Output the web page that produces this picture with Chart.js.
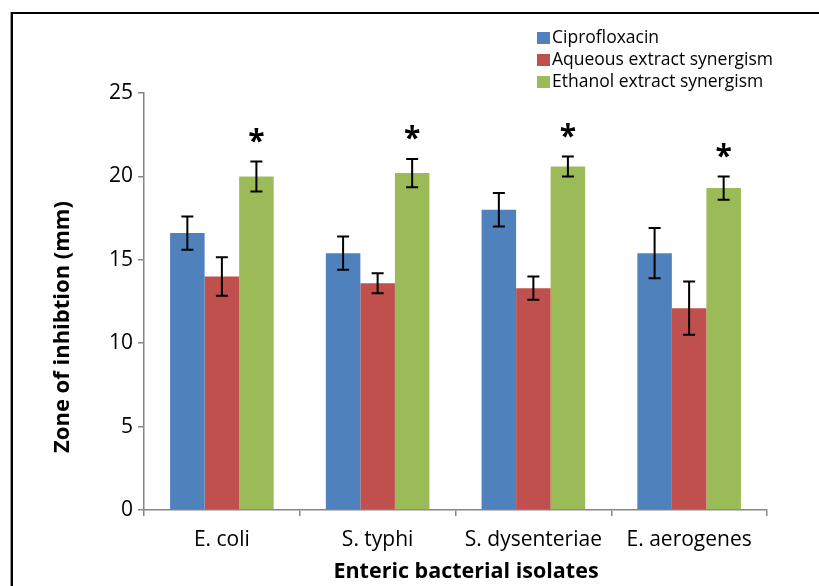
<!DOCTYPE html>
<html>
<head>
<meta charset="utf-8">
<script src="https://cdn.jsdelivr.net/npm/chart.js@4.4.1/dist/chart.umd.min.js"></script>
<style>
  html, body { margin: 0; padding: 0; background: #fff; overflow: hidden; }
  #wrap { position: relative; width: 819px; height: 586px; }
  #frame { position: absolute; left: 11px; top: 12px; width: 900px; height: 700px;
           border-left: 2px solid #000; border-top: 2px solid #000; box-shadow: -1px 0 0 #999; }
  canvas { position: absolute; left: 0; top: 0; }
</style>
</head>
<body>
<div id="wrap">
  <div id="frame"></div>
  <canvas id="grafico" width="819" height="586"></canvas>
</div>
<script>
// categorias e valores
const categorias = ['E. coli', 'S. typhi', 'S. dysenteriae', 'E. aerogenes'];
const ciprofloxacin = [16.6, 15.4, 18.0, 15.4];
const ciprofloxacinErr = [1.0, 1.0, 1.0, 1.5];
const aquoso = [14.0, 13.6, 13.3, 12.1];
const aquosoErr = [1.15, 0.6, 0.7, 1.6];
const etanol = [20.0, 20.2, 20.6, 19.3];
const etanolErr = [0.9, 0.85, 0.6, 0.7];
const significativo = [true, true, true, true]; // asterisco sobre a barra do etanol
const yTicks = [0, 5, 10, 15, 20, 25];
const tituloX = 'Enteric bacterial isolates';
const tituloY = 'Zone of inhibtion (mm)';

const fonte = '"Open Sans", sans-serif';

// barras de erro + asteriscos
const errorBarsPlugin = {
  id: 'errorBars',
  afterDatasetsDraw(chart) {
    const ctx = chart.ctx;
    const y = chart.scales.y;
    ctx.save();
    ctx.strokeStyle = '#000';
    ctx.lineWidth = 2;
    chart.data.datasets.forEach((ds, i) => {
      const meta = chart.getDatasetMeta(i);
      meta.data.forEach((bar, j) => {
        const v = ds.data[j];
        const e = ds.errors[j];
        const top = y.getPixelForValue(v + e);
        const bot = y.getPixelForValue(v - e);
        const cap = 6;
        ctx.beginPath();
        ctx.moveTo(bar.x, top); ctx.lineTo(bar.x, bot);
        ctx.moveTo(bar.x - cap, top); ctx.lineTo(bar.x + cap, top);
        ctx.moveTo(bar.x - cap, bot); ctx.lineTo(bar.x + cap, bot);
        ctx.stroke();
        if (ds.asterisco && ds.asterisco[j]) {
          ctx.fillStyle = '#000';
          ctx.font = 'bold 30px ' + fonte;
          ctx.textAlign = 'center';
          ctx.textBaseline = 'alphabetic';
          const m = ctx.measureText('*');
          const meio = (m.actualBoundingBoxAscent - m.actualBoundingBoxDescent) / 2;
          ctx.fillText('*', bar.x, top - 26 + meio);
        }
      });
    });
    ctx.restore();
  }
};

// legenda no canto superior direito + títulos dos eixos
const legendaPlugin = {
  id: 'legenda',
  afterDraw(chart) {
    const ctx = chart.ctx;
    ctx.save();
    ctx.font = '17.5px ' + fonte;
    ctx.textBaseline = 'middle';
    ctx.textAlign = 'left';
    chart.data.datasets.forEach((ds, i) => {
      const cy = 38 + i * 22;
      ctx.fillStyle = ds.backgroundColor;
      ctx.fillRect(537, cy - 6, 13, 12);
      ctx.fillStyle = '#000';
      ctx.fillText(ds.label, 552, cy);
    });

    // títulos (o Excel centra sobre a área de plotagem inteira)
    ctx.font = 'bold 21.5px ' + fonte;
    ctx.textAlign = 'center';
    ctx.fillText(tituloX, 466, 572);
    ctx.translate(63, 327);
    ctx.rotate(-Math.PI / 2);
    ctx.font = 'bold 22px ' + fonte;
    ctx.fillText(tituloY, 0, 0);
    ctx.restore();
  }
};

const ctx = document.getElementById('grafico').getContext('2d');
new Chart(ctx, {
  type: 'bar',
  data: {
    labels: categorias,
    datasets: [
      { label: 'Ciprofloxacin', data: ciprofloxacin, errors: ciprofloxacinErr,
        backgroundColor: '#4F81BD', borderWidth: 0 },
      { label: 'Aqueous extract synergism', data: aquoso, errors: aquosoErr,
        backgroundColor: '#C0504D', borderWidth: 0 },
      { label: 'Ethanol extract synergism', data: etanol, errors: etanolErr,
        backgroundColor: '#9BBB59', borderWidth: 0, asterisco: significativo }
    ]
  },
  options: {
    responsive: false,
    animation: false,
    layout: { padding: { left: 0, top: 93, right: 52, bottom: 0 } },
    datasets: { bar: { categoryPercentage: 0.665, barPercentage: 1.0 } },
    plugins: {
      legend: { display: false },
      tooltip: { enabled: false }
    },
    scales: {
      x: {
        offset: true,
        grid: { offset: true, drawOnChartArea: false, drawTicks: true, tickLength: 6, color: '#868686', lineWidth: 1.5 },
        border: { color: '#868686', width: 1.5 },
        ticks: { color: '#000', font: { family: fonte, size: 21 }, padding: 11, maxRotation: 0 },
        afterFit: (s) => { s.height = 76; }
      },
      y: {
        min: 0,
        max: 25,
        afterBuildTicks: (s) => { s.ticks = yTicks.map(v => ({ value: v })); },
        grid: { drawOnChartArea: false, drawTicks: true, tickLength: 6, color: '#868686', lineWidth: 1.5 },
        border: { color: '#868686', width: 1.5 },
        ticks: { color: '#000', font: { family: fonte, size: 21 }, padding: 5 },
        afterFit: (s) => { s.width = 144; }
      }
    }
  },
  plugins: [errorBarsPlugin, legendaPlugin]
});
</script>
</body>
</html>
